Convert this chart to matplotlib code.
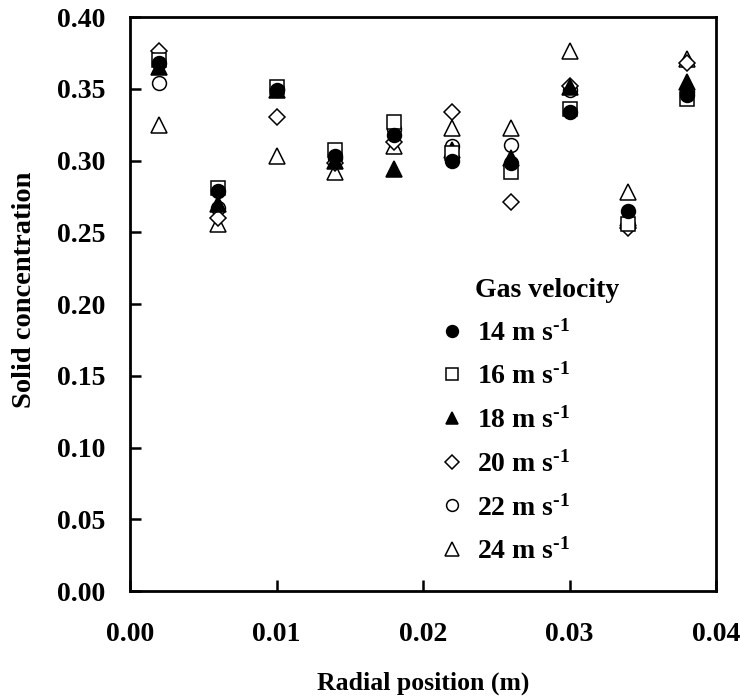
import matplotlib
matplotlib.use('Agg')
import matplotlib.pyplot as plt
import numpy as np

# radial positions (m)
r = [0.002, 0.006, 0.010, 0.014, 0.018, 0.022, 0.026, 0.030, 0.034, 0.038]

# solid concentration at each gas velocity
v14 = [0.368, 0.279, 0.349, 0.303, 0.318, 0.300, 0.298, 0.334, 0.265, 0.346]
v16 = [0.370, 0.281, 0.351, 0.307, 0.327, 0.305, 0.292, 0.336, 0.256, 0.343]
v18 = [0.365, 0.270, 0.349, 0.300, 0.294, 0.307, 0.302, 0.351, 0.260, 0.355]
v20 = [0.376, 0.260, 0.330, 0.298, 0.313, 0.334, 0.271, 0.352, 0.253, 0.368]
v22 = [0.354, 0.267, 0.350, 0.302, 0.322, 0.310, 0.311, 0.349, 0.255, 0.348]
v24 = [0.325, 0.256, 0.303, 0.292, 0.310, 0.323, 0.323, 0.376, 0.278, 0.371]

labels = ['14 m s$^{\\text{-1}}$', '16 m s$^{\\text{-1}}$', '18 m s$^{\\text{-1}}$',
          '20 m s$^{\\text{-1}}$', '22 m s$^{\\text{-1}}$', '24 m s$^{\\text{-1}}$']

plt.rcParams['font.family'] = ['Liberation Serif', 'DejaVu Serif']
plt.rcParams['font.weight'] = 'bold'
plt.rcParams['mathtext.fontset'] = 'custom'
plt.rcParams['mathtext.rm'] = 'Liberation Serif:bold'
plt.rcParams['mathtext.it'] = 'Liberation Serif:bold'
plt.rcParams['mathtext.bf'] = 'Liberation Serif:bold'
plt.rcParams['mathtext.default'] = 'rm'

fig = plt.figure(figsize=(7.4, 7.0), dpi=100)
ax = fig.add_axes([0.1757, 0.1557, 0.7919, 0.8200])

# 标记样式
styles = [
    dict(marker='o', mfc='black', mec='black'),
    dict(marker='s', mfc='white', mec='black'),
    dict(marker='^', mfc='black', mec='black'),
    dict(marker='D', mfc='white', mec='black'),
    dict(marker='o', mfc='white', mec='black'),
    dict(marker='^', mfc='white', mec='black'),
]
sizes = [10, 9.5, 11, 8, 10, 11.5]

series = [v14, v16, v18, v20, v22, v24]
handles = []
# 14 m/s ends up on top, 24 m/s at the bottom
for i, (ys, st, ms, lab) in enumerate(zip(series, styles, sizes, labels)):
    h, = ax.plot(r, ys, linestyle='none', markersize=ms, markeredgewidth=1.1,
                 label=lab, zorder=10 - i, **st)
    handles.append(h)

ax.set_xlim(0, 0.04)
ax.set_ylim(0, 0.40)
ax.set_xticks(np.arange(0, 0.041, 0.01))
ax.set_yticks(np.arange(0, 0.401, 0.05))
ax.set_xticklabels(['0.00', '0.01', '0.02', '0.03', '0.04'])
ax.set_yticklabels(['%.2f' % v for v in np.arange(0, 0.401, 0.05)])
ax.tick_params(direction='in', length=8, width=1.8, labelsize=20, pad=18)
ax.tick_params(axis='x', pad=22)
for s in ax.spines.values():
    s.set_linewidth(2)

ax.set_xlabel('Radial position (m)', fontsize=18.5, fontweight='bold', labelpad=18)
ax.set_ylabel('Solid concentration', fontsize=20.5, fontweight='bold')
ax.yaxis.set_label_coords(-0.159, 0.524)

leg = ax.legend(handles=handles, loc='lower left', bbox_to_anchor=(0.487, 0.002),
                frameon=False, fontsize=20, markerscale=0.85,
                handlelength=0.8, handletextpad=0.5, labelspacing=0.62)
ax.text(475 / 740, 1 - 290 / 700, 'Gas velocity', transform=fig.transFigure,
        fontsize=20, fontweight='bold', ha='left', va='center')

fig.savefig('out.png', dpi=100)
